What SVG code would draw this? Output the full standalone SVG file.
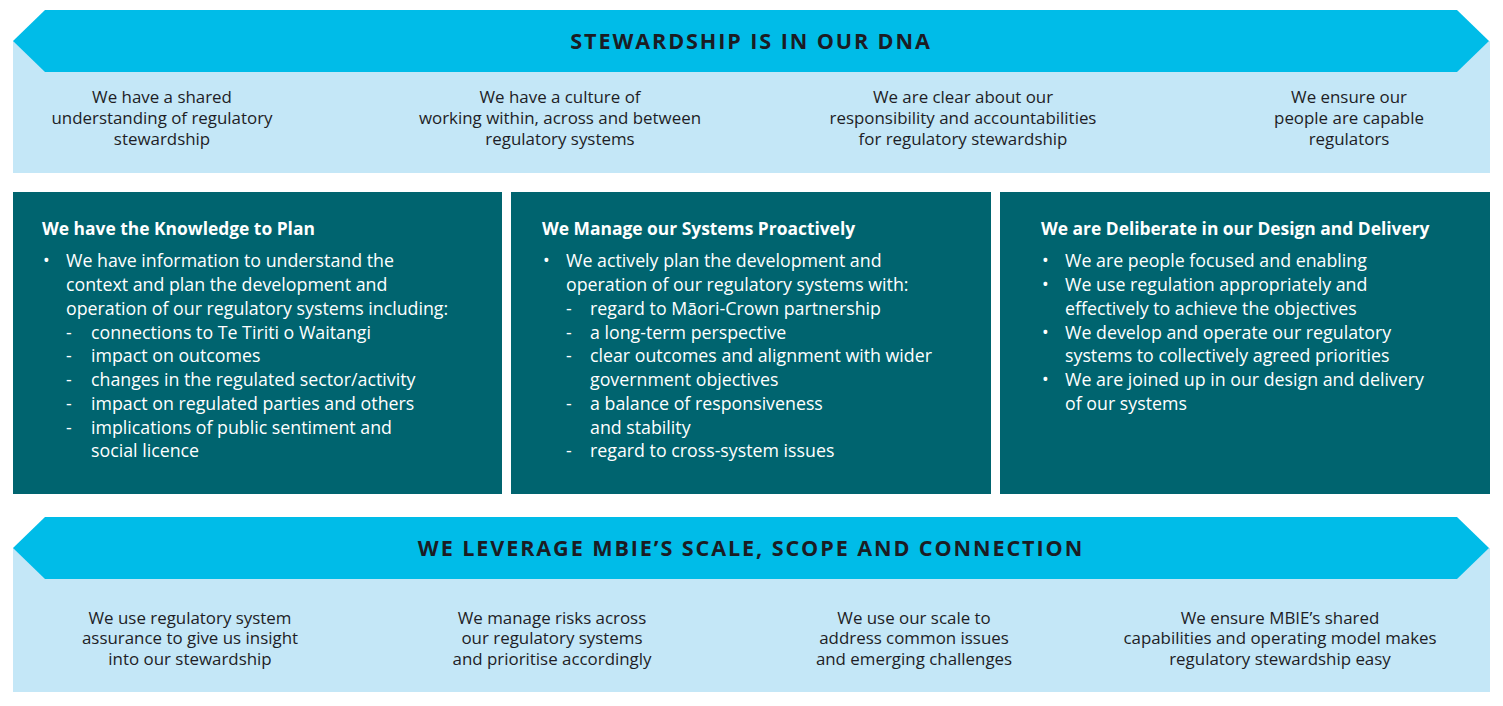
<svg xmlns="http://www.w3.org/2000/svg" width="1503" height="706" viewBox="0 0 1503 706">
<style>
.light{fill:#C4E7F7}
.band{fill:#00BCE8}
.box{fill:#00646F}
.title{font-family:"Open Sans","Liberation Sans",sans-serif;font-weight:700;font-size:21.6px;fill:#1B1C24;letter-spacing:1.9px;text-anchor:middle}
.sub{font-family:"Open Sans","Liberation Sans",sans-serif;font-size:16.9px;fill:#1E1E26;text-anchor:middle}
.hd{font-family:"Open Sans","Liberation Sans",sans-serif;font-weight:700;font-size:17.4px;fill:#fff}
.bt{font-family:"Open Sans","Liberation Sans",sans-serif;font-size:17.8px;fill:#fff}
</style>
<rect width="1503" height="706" fill="#fff"/>
<g id="top-banner">
<rect class="light" x="13" y="41" width="1477" height="132"/>
<polygon class="band" points="45,10 1457,10 1489,41 1457,72 45,72 13,41"/>
<text class="title" x="751" y="49">STEWARDSHIP IS IN OUR DNA</text>
<text class="sub" x="162" y="103">We have a shared</text>
<text class="sub" x="162" y="124">understanding of regulatory</text>
<text class="sub" x="162" y="145">stewardship</text>
<text class="sub" x="560" y="103">We have a culture of</text>
<text class="sub" x="560" y="124">working within, across and between</text>
<text class="sub" x="560" y="145">regulatory systems</text>
<text class="sub" x="963" y="103">We are clear about our</text>
<text class="sub" x="963" y="124">responsibility and accountabilities</text>
<text class="sub" x="963" y="145">for regulatory stewardship</text>
<text class="sub" x="1349" y="103">We ensure our</text>
<text class="sub" x="1349" y="124">people are capable</text>
<text class="sub" x="1349" y="145">regulators</text>
</g>
<g id="box-knowledge">
<rect class="box" x="13" y="192" width="489" height="302"/>
<text class="hd" x="42" y="235">We have the Knowledge to Plan</text>
<text class="bt" x="43" y="267">•</text>
<text class="bt" x="66" y="267">We have information to understand the</text>
<text class="bt" x="66" y="291">context and plan the development and</text>
<text class="bt" x="66" y="315">operation of our regulatory systems including:</text>
<text class="bt" x="66" y="339">-</text><text class="bt" x="91" y="339">connections to Te Tiriti o Waitangi</text>
<text class="bt" x="66" y="362">-</text><text class="bt" x="91" y="362">impact on outcomes</text>
<text class="bt" x="66" y="386">-</text><text class="bt" x="91" y="386">changes in the regulated sector/activity</text>
<text class="bt" x="66" y="410">-</text><text class="bt" x="91" y="410">impact on regulated parties and others</text>
<text class="bt" x="66" y="434">-</text><text class="bt" x="91" y="434">implications of public sentiment and</text>
<text class="bt" x="91" y="457">social licence</text>
</g>
<g id="box-manage">
<rect class="box" x="511" y="192" width="480" height="302"/>
<text class="hd" x="542" y="235">We Manage our Systems Proactively</text>
<text class="bt" x="543" y="267">•</text>
<text class="bt" x="566" y="267">We actively plan the development and</text>
<text class="bt" x="566" y="291">operation of our regulatory systems with:</text>
<text class="bt" x="566" y="315">-</text><text class="bt" x="590" y="315">regard to Māori-Crown partnership</text>
<text class="bt" x="566" y="339">-</text><text class="bt" x="590" y="339">a long-term perspective</text>
<text class="bt" x="566" y="362">-</text><text class="bt" x="590" y="362">clear outcomes and alignment with wider</text>
<text class="bt" x="590" y="386">government objectives</text>
<text class="bt" x="566" y="410">-</text><text class="bt" x="590" y="410">a balance of responsiveness</text>
<text class="bt" x="590" y="434">and stability</text>
<text class="bt" x="566" y="457">-</text><text class="bt" x="590" y="457">regard to cross-system issues</text>
</g>
<g id="box-deliberate">
<rect class="box" x="1000" y="192" width="490" height="302"/>
<text class="hd" x="1041" y="235">We are Deliberate in our Design and Delivery</text>
<text class="bt" x="1042" y="267">•</text><text class="bt" x="1065" y="267">We are people focused and enabling</text>
<text class="bt" x="1042" y="291">•</text><text class="bt" x="1065" y="291">We use regulation appropriately and</text>
<text class="bt" x="1065" y="315">effectively to achieve the objectives</text>
<text class="bt" x="1042" y="339">•</text><text class="bt" x="1065" y="339">We develop and operate our regulatory</text>
<text class="bt" x="1065" y="362">systems to collectively agreed priorities</text>
<text class="bt" x="1042" y="386">•</text><text class="bt" x="1065" y="386">We are joined up in our design and delivery</text>
<text class="bt" x="1065" y="410">of our systems</text>
</g>
<g id="bottom-banner">
<rect class="light" x="13" y="548" width="1477" height="144"/>
<polygon class="band" points="45,517 1457,517 1489,548 1457,579 45,579 13,548"/>
<text class="title" x="751" y="556">WE LEVERAGE MBIE’S SCALE, SCOPE AND CONNECTION</text>
<text class="sub" x="190" y="624">We use regulatory system</text>
<text class="sub" x="190" y="644">assurance to give us insight</text>
<text class="sub" x="190" y="665">into our stewardship</text>
<text class="sub" x="552" y="624">We manage risks across</text>
<text class="sub" x="552" y="644">our regulatory systems</text>
<text class="sub" x="552" y="665">and prioritise accordingly</text>
<text class="sub" x="914" y="624">We use our scale to</text>
<text class="sub" x="914" y="644">address common issues</text>
<text class="sub" x="914" y="665">and emerging challenges</text>
<text class="sub" x="1280" y="624">We ensure MBIE’s shared</text>
<text class="sub" x="1280" y="644">capabilities and operating model makes</text>
<text class="sub" x="1280" y="665">regulatory stewardship easy</text>
</g>
<g id="connectors"/>
</svg>
